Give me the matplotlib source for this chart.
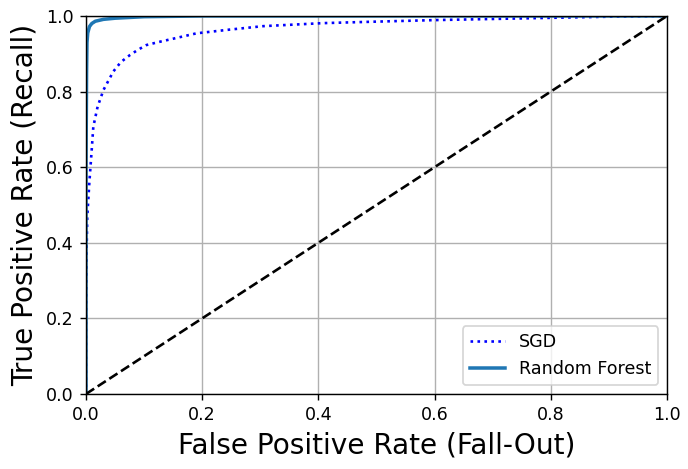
import matplotlib
matplotlib.use("Agg")
import matplotlib.pyplot as plt

# ROC points
sgd_fpr = [0.0, 0.0, 0.0005, 0.001, 0.0022, 0.0057, 0.0098, 0.0126, 0.02, 0.03, 0.047,
           0.06, 0.076, 0.09, 0.104, 0.125, 0.145, 0.19, 0.248, 0.305, 0.408, 0.5, 0.6,
           0.7, 0.8, 0.9, 1.0]
sgd_tpr = [0.0, 0.2, 0.3, 0.38, 0.469, 0.558, 0.645, 0.707, 0.76, 0.804, 0.853,
           0.878, 0.897, 0.911, 0.923, 0.931, 0.938, 0.954, 0.964, 0.973, 0.981, 0.985,
           0.989, 0.992, 0.995, 0.998, 1.0]

forest_fpr = [0.0, 0.0, 0.001, 0.0017, 0.003, 0.006, 0.01, 0.016, 0.03, 0.05, 0.1, 0.2, 0.5, 1.0]
forest_tpr = [0.0, 0.6, 0.85, 0.93, 0.955, 0.972, 0.98, 0.986, 0.991, 0.994, 0.998, 1.0, 1.0, 1.0]

dpi = 126
fig = plt.figure(figsize=(688 / dpi, 469 / dpi), dpi=dpi)
fig.subplots_adjust(left=0.125, right=0.9695, top=0.966, bottom=0.16)

plt.plot(sgd_fpr, sgd_tpr, "b:", linewidth=1.5, label="SGD")
plt.plot(forest_fpr, forest_tpr, linewidth=2, label="Random Forest")
plt.plot([0, 1], [0, 1], "k--")
plt.axis([0, 1, 0, 1])
plt.xlabel("False Positive Rate (Fall-Out)", fontsize=16)
plt.ylabel("True Positive Rate (Recall)", fontsize=16)
plt.grid(True)
plt.legend(loc="lower right")
plt.savefig("out.png", dpi=dpi)
